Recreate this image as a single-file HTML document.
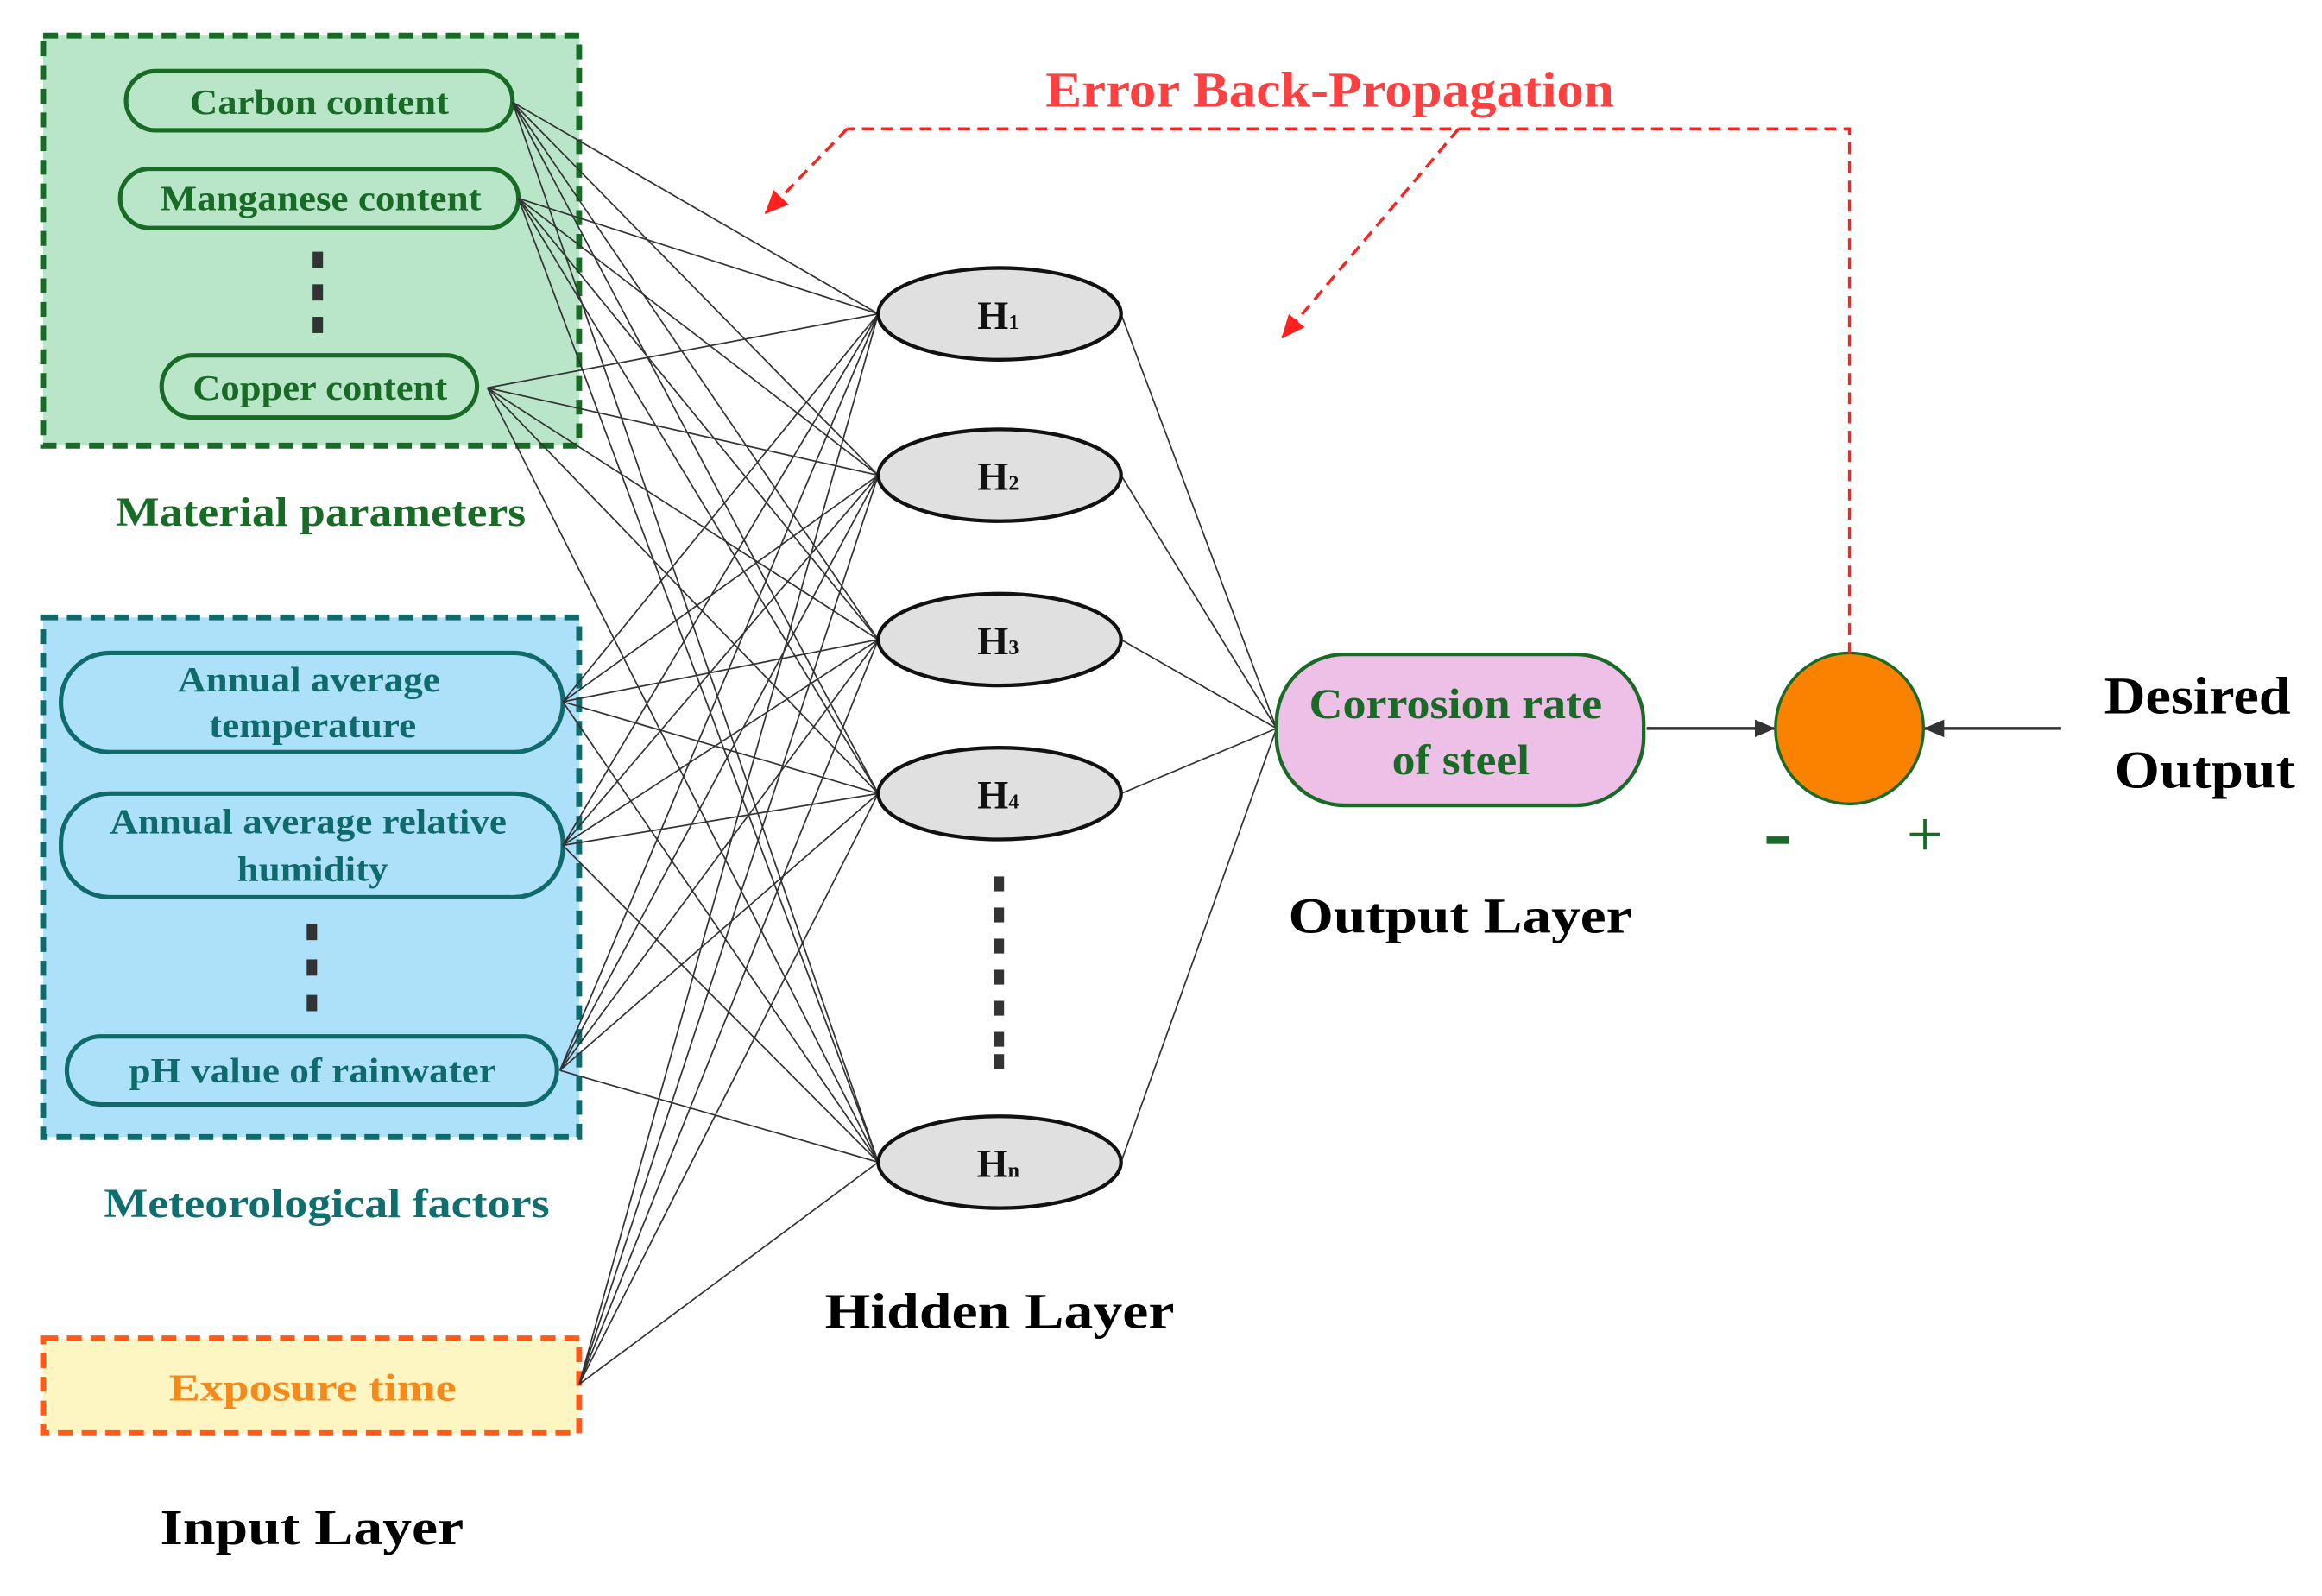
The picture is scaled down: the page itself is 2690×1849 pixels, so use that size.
<!DOCTYPE html>
<html><head><meta charset="utf-8"><style>html,body{margin:0;padding:0;background:#fff}svg{display:block}</style></head>
<body>
<svg width="2690" height="1849" viewBox="0 0 1568 1078" xmlns="http://www.w3.org/2000/svg" font-family="'Liberation Serif', serif" font-weight="bold">
<defs>
<marker id="ar" markerWidth="16" markerHeight="14" refX="15" refY="7" orient="auto" markerUnits="userSpaceOnUse"><path d="M0,0 L16,7 L0,14 Z" fill="#ff2020"/></marker>
<marker id="ak" markerWidth="14" markerHeight="12" refX="13" refY="6" orient="auto" markerUnits="userSpaceOnUse"><path d="M0,0 L14,6 L0,12 Z" fill="#333"/></marker>
</defs>
<rect x="29" y="24" width="362" height="277" fill="#b9e6c9" stroke="#176b25" stroke-width="4" stroke-dasharray="10,6"/>
<rect x="29" y="417" width="362" height="351" fill="#ade0f9" stroke="#0f6b6b" stroke-width="4" stroke-dasharray="10,6"/>
<rect x="29" y="904" width="362" height="64" fill="#fdf6c2" stroke="#ff5a1a" stroke-width="4" stroke-dasharray="10,6"/>
<g fill="#b9e6c9" stroke="#176b25" stroke-width="3">
<rect x="85" y="48" width="261" height="40" rx="20"/>
<rect x="81" y="114" width="269" height="40" rx="20"/>
<rect x="109" y="240" width="213" height="42" rx="21"/>
</g>
<g fill="#176b25" font-size="24" lengthAdjust="spacingAndGlyphs">
<text x="128" y="77" textLength="175" lengthAdjust="spacingAndGlyphs">Carbon content</text>
<text x="108" y="142" textLength="217" lengthAdjust="spacingAndGlyphs">Manganese content</text>
<text x="130" y="270" textLength="172" lengthAdjust="spacingAndGlyphs">Copper content</text>
</g>
<g fill="#333"><rect x="211" y="170" width="7" height="11"/><rect x="211" y="192" width="7" height="11"/><rect x="211" y="214" width="7" height="11"/></g>
<g fill="#ade0f9" stroke="#0f6b6b" stroke-width="3">
<rect x="41" y="441" width="339" height="67" rx="33"/>
<rect x="41" y="536" width="339" height="70" rx="33"/>
<rect x="45" y="700" width="331" height="46" rx="23"/>
</g>
<g fill="#0f6b6b" font-size="24">
<text x="120" y="467" textLength="177" lengthAdjust="spacingAndGlyphs">Annual average</text>
<text x="141" y="498" textLength="140" lengthAdjust="spacingAndGlyphs">temperature</text>
<text x="74" y="563" textLength="268" lengthAdjust="spacingAndGlyphs">Annual average relative</text>
<text x="160" y="595" textLength="102" lengthAdjust="spacingAndGlyphs">humidity</text>
<text x="87" y="731" textLength="248" lengthAdjust="spacingAndGlyphs">pH value of rainwater</text>
</g>
<g fill="#333"><rect x="207" y="624" width="7" height="11"/><rect x="207" y="648" width="7" height="11"/><rect x="207" y="672" width="7" height="11"/></g>
<text x="114" y="946" fill="#f5891a" font-size="26" textLength="194" lengthAdjust="spacingAndGlyphs">Exposure time</text>
<text x="78" y="355" fill="#176b25" font-size="28" textLength="277" lengthAdjust="spacingAndGlyphs">Material parameters</text>
<text x="70" y="822" fill="#0f6e6e" font-size="28" textLength="301" lengthAdjust="spacingAndGlyphs">Meteorological factors</text>
<text x="108" y="1043" fill="#000" font-size="34" textLength="205" lengthAdjust="spacingAndGlyphs">Input Layer</text>
<g stroke="#333" stroke-width="1" fill="none">
<path d="M346 69L593 212M346 69L593 321M346 69L593 432M346 69L593 536M346 69L593 785
M350 134L593 212M350 134L593 321M350 134L593 432M350 134L593 536M350 134L593 785
M329 262L593 212M329 262L593 321M329 262L593 432M329 262L593 536M329 262L593 785
M380 474L593 212M380 474L593 321M380 474L593 432M380 474L593 536M380 474L593 785
M380 571L593 212M380 571L593 321M380 571L593 432M380 571L593 536M380 571L593 785
M378 723L593 212M378 723L593 321M378 723L593 432M378 723L593 536M378 723L593 785
M391 935L593 212M391 935L593 321M391 935L593 432M391 935L593 536M391 935L593 785
M757 212L862 492M757 321L862 492M757 432L862 492M757 536L862 492M757 785L862 492"/>
</g>
<g fill="#e0e0e0" stroke="#111" stroke-width="2.5">
<ellipse cx="675" cy="212" rx="82" ry="31"/>
<ellipse cx="675" cy="321" rx="82" ry="31"/>
<ellipse cx="675" cy="432" rx="82" ry="31"/>
<ellipse cx="675" cy="536" rx="82" ry="31"/>
<ellipse cx="675" cy="785" rx="82" ry="31"/>
</g>
<g fill="#111" font-size="27" text-anchor="middle">
<text x="674" y="222">H<tspan font-size="14">1</tspan></text>
<text x="674" y="331">H<tspan font-size="14">2</tspan></text>
<text x="674" y="442">H<tspan font-size="14">3</tspan></text>
<text x="674" y="546">H<tspan font-size="14">4</tspan></text>
<text x="674" y="795">H<tspan font-size="14">n</tspan></text>
</g>
<g fill="#333"><rect x="671" y="592" width="7" height="10"/><rect x="671" y="613" width="7" height="10"/><rect x="671" y="634" width="7" height="10"/><rect x="671" y="655" width="7" height="10"/><rect x="671" y="676" width="7" height="10"/><rect x="671" y="697" width="7" height="10"/><rect x="671" y="712" width="7" height="10"/></g>
<text x="557" y="897" fill="#000" font-size="34" textLength="236" lengthAdjust="spacingAndGlyphs">Hidden Layer</text>
<rect x="862" y="442" width="248" height="102" rx="46" fill="#eebfe7" stroke="#176b25" stroke-width="2.5"/>
<text x="884" y="485" fill="#176b25" font-size="29" textLength="198" lengthAdjust="spacingAndGlyphs">Corrosion rate</text>
<text x="940" y="523" fill="#176b25" font-size="29" textLength="93" lengthAdjust="spacingAndGlyphs">of steel</text>
<text x="870" y="630" fill="#000" font-size="34" textLength="232" lengthAdjust="spacingAndGlyphs">Output Layer</text>
<line x1="1112" y1="492" x2="1198" y2="492" stroke="#333" stroke-width="2" marker-end="url(#ak)"/>
<line x1="1392" y1="492" x2="1300" y2="492" stroke="#333" stroke-width="2" marker-end="url(#ak)"/>
<ellipse cx="1249" cy="492" rx="50" ry="51" fill="#fb8200" stroke="#176b25" stroke-width="2"/>
<rect x="1193" y="565" width="15" height="5" fill="#176b25"/>
<text x="1300" y="578" fill="#176b25" font-size="44" font-weight="normal" text-anchor="middle">+</text>
<text x="1421" y="482" fill="#000" font-size="36" textLength="126" lengthAdjust="spacingAndGlyphs">Desired</text>
<text x="1428" y="532" fill="#000" font-size="36" textLength="122" lengthAdjust="spacingAndGlyphs">Output</text>
<g stroke="#ff2020" stroke-width="2" fill="none" stroke-dasharray="8,5">
<path d="M1249 442 L1249 87 L572 87"/>
<path d="M572 87 L517 144" marker-end="url(#ar)"/>
<path d="M985 87 L866 228" marker-end="url(#ar)"/>
</g>
<text x="706" y="72" fill="#ff4040" font-size="34" textLength="384" lengthAdjust="spacingAndGlyphs">Error Back-Propagation</text>
</svg>
</body></html>
